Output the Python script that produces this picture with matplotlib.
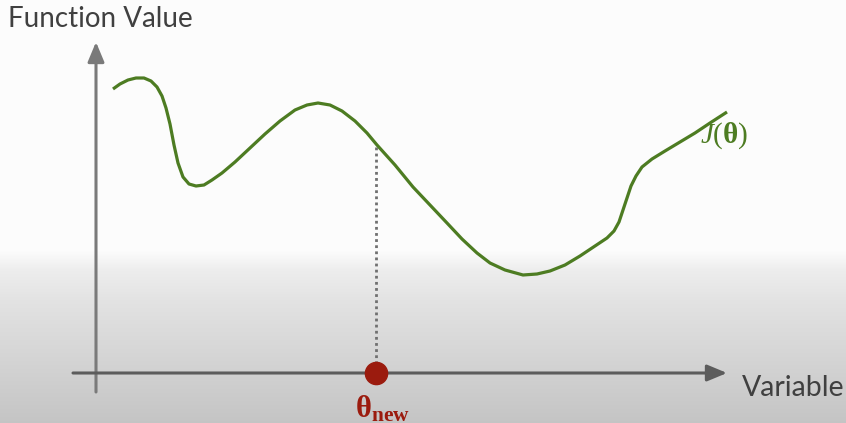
import numpy as np
import matplotlib
matplotlib.use("Agg")
import matplotlib.pyplot as plt

# curve J(theta) (x position, height above bottom edge)
curve_x = [113, 120, 128, 136, 144, 151, 157, 162, 166, 170, 174, 178, 183, 189,
           196, 204, 212, 222, 235, 250, 265, 280, 295, 307, 318, 330, 342, 355,
           367, 377, 395, 413, 430, 447, 462, 477, 490, 505, 523, 537, 550, 565,
           580, 595, 607, 614, 619, 623, 627, 631, 636, 642, 652, 665, 680, 695,
           710, 727]
curve_y = [334, 339, 343, 345, 345, 342, 336, 327, 315, 299, 278, 260, 246, 239,
           237, 238, 243, 250, 261, 275, 289, 302, 313, 318, 320, 318, 312, 302,
           290, 278, 258, 236, 218, 200, 184, 170, 160, 153, 148, 149, 152, 158,
           167, 177, 185, 192, 201, 213, 225, 237, 247, 256, 264, 272, 281, 290,
           300, 311]

theta_new = 376
theta_top = 276          # where the dotted line meets the curve
axis_y = 50              # height of the Variable axis
yaxis_x = 96

plt.rcParams['mathtext.fontset'] = 'custom'
plt.rcParams['mathtext.rm'] = 'Liberation Serif'
plt.rcParams['mathtext.it'] = 'Liberation Serif:italic'
plt.rcParams['mathtext.bf'] = 'Liberation Serif:bold'

fig = plt.figure(figsize=(8.46, 4.23), dpi=100)
ax = fig.add_axes([0, 0, 1, 1])
ax.set_xlim(0, 846)
ax.set_ylim(0, 423)
ax.axis('off')

# background: white on top, fading to grey at the bottom
depth = np.arange(423)
grey = np.interp(depth, [0, 250, 270, 300, 423], [0.99, 0.99, 0.93, 0.89, 0.77])
ax.imshow(np.repeat(grey[:, None], 3, axis=1)[:, None, :].repeat(2, axis=1),
          extent=[0, 846, 0, 423], aspect='auto', zorder=0, vmin=0, vmax=1)

# axes with arrows
ax.annotate('', xy=(yaxis_x, 381), xytext=(yaxis_x, 31),
            arrowprops=dict(arrowstyle='-|>,head_length=0.6,head_width=0.25',
                            mutation_scale=20, lw=2.2, color='#7a7a7a',
                            shrinkA=0, shrinkB=0), zorder=2)
ax.annotate('', xy=(727, axis_y), xytext=(73, axis_y),
            arrowprops=dict(arrowstyle='-|>,head_length=0.6,head_width=0.25',
                            mutation_scale=20, lw=2.2, color='#5c5c5c',
                            shrinkA=0, shrinkB=0), zorder=2)

# function curve
ax.plot(curve_x, curve_y, color='#4d7c22', lw=2.3, solid_joinstyle='round',
        solid_capstyle='butt', zorder=3)

# dotted drop line and theta point
ax.plot([theta_new, theta_new], [theta_top, axis_y + 10], color='#707070',
        lw=2.0, linestyle=(0, (1, 1.2)), zorder=2)
ax.plot([theta_new], [axis_y], 'o', color='#9b1b0e', markersize=16, zorder=4)

# labels
ax.text(8, 404, 'Function Value', fontsize=20, family='Lato', color='#404040',
        va='center', ha='left')
ax.text(742, 35, 'Variable', fontsize=20.5, family='Lato', color='#404040',
        va='center', ha='left')
ax.text(700, 287, r'$\mathit{J}(\mathbf{θ})$', fontsize=21, color='#4d7c22',
        va='center', ha='left')
ax.text(355, 14, r'$\mathbf{θ}_{\mathbf{new}}$', fontsize=22, color='#9b1b0e',
        va='center', ha='left')

fig.savefig('out.png', dpi=100)
